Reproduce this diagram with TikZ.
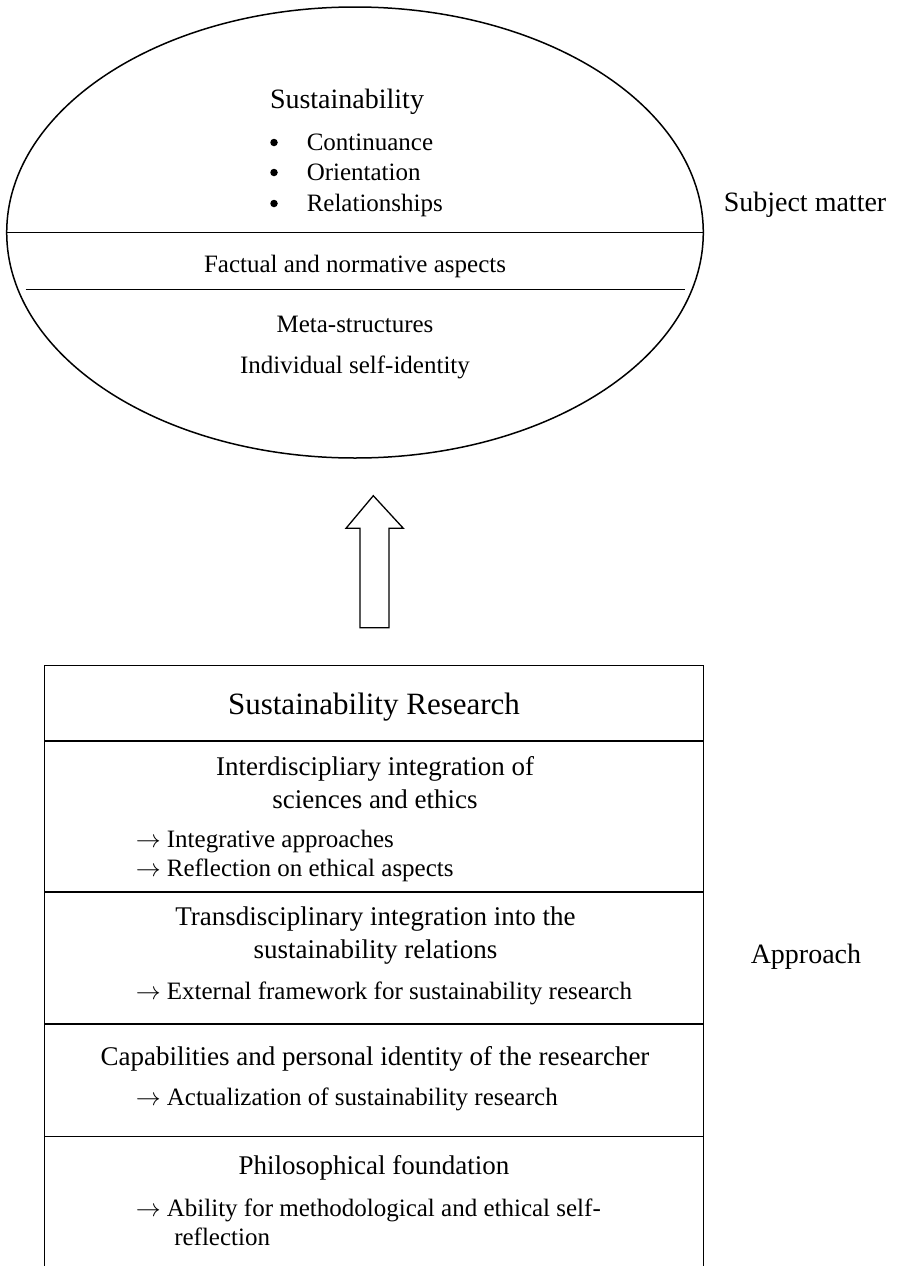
\documentclass[tikz,border=0pt]{standalone}
\usepackage{fontspec}
\setmainfont{Liberation Serif}
\usetikzlibrary{shapes.geometric}
\newcommand{\rarr}{\(\rightarrow\)}
\begin{document}
\begin{tikzpicture}[x=1pt,y=-1pt,line width=1.5pt,
  txt/.style={anchor=base,inner sep=0pt,font=\fontsize{25}{29}\selectfont},
  head/.style={anchor=base,inner sep=0pt,font=\fontsize{27}{33}\selectfont},
  side/.style={anchor=base west,inner sep=0pt,font=\fontsize{28}{33}\selectfont},
  item/.style={anchor=base west,inner sep=0pt,font=\fontsize{25}{29}\selectfont},
  bul/.style={circle,fill=black,draw=none,inner sep=0pt,minimum size=7.5pt}]
\useasboundingbox (0,0) rectangle (899,1266);
% ellipse
\node[ellipse,draw,minimum width=696.6pt,minimum height=451pt,inner sep=0pt] (subj) at (355,232.5) {};
\draw (subj.west) -- (subj.east);
\coordinate (l2a) at (25.7,289.3);
\coordinate (l2b) at (685,289.3);
\draw (l2a) -- (l2b);
\node[txt,font=\fontsize{28}{33}\selectfont] (sus) at (347,108.4) {Sustainability};
\node[bul] (b1) at (274,142.5) {};
\node[bul] (b2) at (274,172.5) {};
\node[bul] (b3) at (274,203.5) {};
\node[item] (i1) at (306,150.5) {Continuance};
\node[item] (i2) at (306,180.5) {Orientation};
\node[item] (i3) at (306,211.5) {Relationships};
\node[txt] (fact) at (355,272.5) {Factual and normative aspects};
\node[txt] (meta) at (355,332.5) {Meta-structures};
\node[txt] (indiv) at (355,373.5) {Individual self-identity};
\node[side] (sm) at (723,211.4) {Subject matter};
% block arrow
\draw[line width=1.3pt,line join=miter] (360,627.7) -- (360,528.3) -- (346,528.3) -- (373.3,495.7)
  -- (403.3,528.3) -- (389,528.3) -- (389,627.7) -- cycle;
% box
\coordinate (bl) at (44.3,1266);
\coordinate (br) at (703.3,1266);
\coordinate (tl) at (44.3,665.5);
\coordinate (tr) at (703.3,665.5);
\draw (bl) -- (tl) -- (tr) -- (br);
\foreach \yy/\nm in {741/d1,892/d2,1024/d3,1136.5/d4}{
  \coordinate (\nm a) at (44.3,\yy);
  \coordinate (\nm b) at (703.3,\yy);
  \draw (\nm a) -- (\nm b);
}
\node[txt,font=\fontsize{31}{36}\selectfont] (sr) at (374,714.3) {Sustainability Research};
\node[head] (h1a) at (375,775.1) {Interdiscipliary integration of};
\node[head] (h1b) at (375,808.1) {sciences and ethics};
\node[item] (a1) at (135,847.5) {\rarr{} Integrative approaches};
\node[item] (a2) at (135,876.5) {\rarr{} Reflection on ethical aspects};
\node[head] (h2a) at (375.5,925.1) {Transdisciplinary integration into the};
\node[head] (h2b) at (375.5,958.1) {sustainability relations};
\node[item] (a3) at (135,999.5) {\rarr{} External framework for sustainability research};
\node[head] (h3) at (375,1065.1) {Capabilities and personal identity of the researcher};
\node[item] (a4) at (135,1105.5) {\rarr{} Actualization of sustainability research};
\node[head] (h4) at (374,1174.1) {Philosophical foundation};
\node[item] (a5) at (135,1216.5) {\rarr{} Ability for methodological and ethical self-};
\node[item] (a6) at (173.5,1245.5) {reflection};
\node[side] (ap) at (750,963.4) {Approach};
\end{tikzpicture}
\end{document}
